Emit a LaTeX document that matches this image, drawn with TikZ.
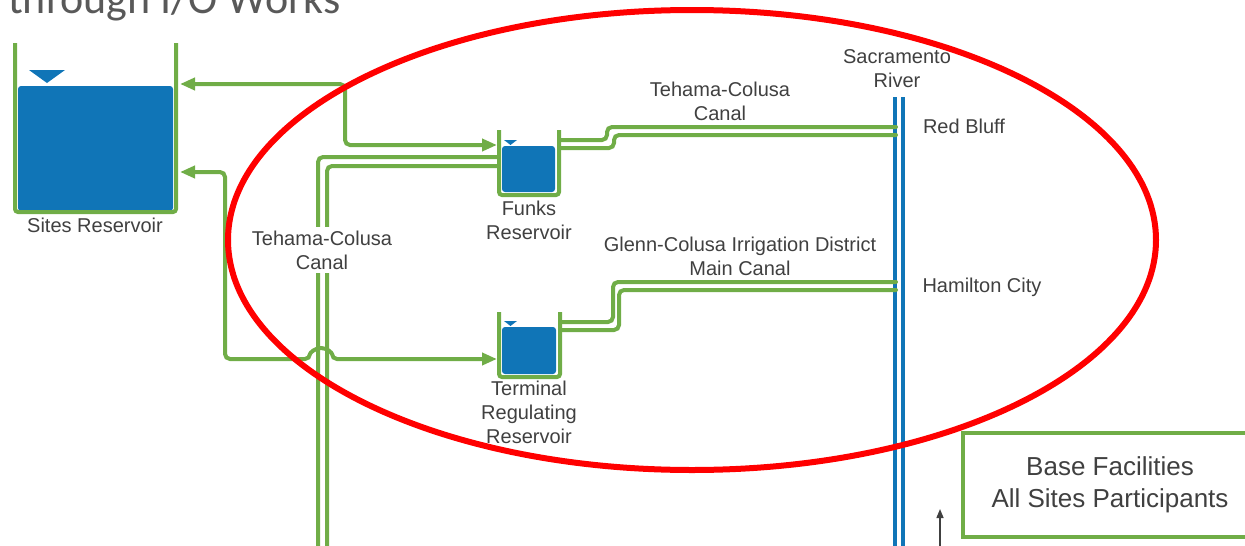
\documentclass[tikz,border=0pt]{standalone}
\usepackage{fontspec}
\setmainfont{Liberation Sans}
\newfontfamily\titlefont{Carlito}
\usetikzlibrary{arrows.meta, positioning}
\definecolor{pipegreen}{RGB}{112,173,71}
\definecolor{waterblue}{RGB}{16,117,183}
\definecolor{labelgrey}{RGB}{64,64,64}
\definecolor{titlegrey}{RGB}{89,89,89}

\begin{document}
\begin{tikzpicture}[
        x=1pt, y=-1pt,
        font=\fontsize{20}{24}\selectfont,
        >={Triangle[length=15pt,width=12pt]},
        pipe/.style={draw=pipegreen, line width=4pt, rounded corners=5pt},
        wall/.style={pipe, rounded corners=3pt},
        flow/.style={pipe, <->, color=pipegreen},
        canal/.style={pipe, line cap=round},
        river/.style={draw=waterblue, line width=4pt},
        water/.style={fill=waterblue, rounded corners=3pt, inner sep=0pt},
        lbl/.style={text=labelgrey, align=center}
    ]
    \useasboundingbox (0,0) rectangle (1245,546);

    % Title
    \node[anchor=base west, inner sep=0pt, font=\titlefont\fontsize{44}{50}\selectfont, text=titlegrey] (title) at (8,13) {through I/O Works};

    % Nodes
    \node[water, minimum width=155pt, minimum height=125pt] (sitesW) at (95.5,148.5) {};
    \node[water, minimum width=53pt, minimum height=46pt] (funksW) at (528.5,169) {};
    \node[water, minimum width=54pt, minimum height=47pt] (termW) at (529,350.5) {};

    \fill[waterblue] (29,70) -- (65,70) -- (47,83) -- cycle;
    \fill[waterblue] (504,140) -- (517,140) -- (510.5,145) -- cycle;
    \fill[waterblue] (504,321) -- (517,321) -- (510.5,326) -- cycle;

    \draw[wall] (15,43) |- (176,212) -- (176,43);
    \draw[wall] (499,130) |- (559,195) -- (559,130);
    \draw[wall] (499,312) |- (560,377) -- (560,312);

    \node[lbl] (sitesLbl) at (95,225) {Sites Reservoir};
    \node[lbl] (funksLbl) at (529,220) {Funks\\Reservoir};
    \node[lbl] (termLbl) at (529,412) {Terminal\\Regulating\\Reservoir};
    \node[lbl] (tcNorthLbl) at (720,101) {Tehama-Colusa\\Canal};
    \node[lbl] (gcidLbl) at (740,256) {Glenn-Colusa Irrigation District\\Main Canal};
    \node[lbl] (riverLbl) at (897,69) {Sacramento\\River};
    \node[lbl] (redBluff) at (964,126) {Red Bluff};
    \node[lbl] (hamilton) at (982,287) {Hamilton City};

    \node[draw=pipegreen, line width=4pt, minimum width=294pt, minimum height=104pt,
          font=\fontsize{26}{32}\selectfont, lbl] (base) at (1110,485) {Base Facilities\\All Sites Participants};

    % Ports
    \coordinate (sitesUp) at (180,84);
    \coordinate (sitesLow) at (180,172);
    \coordinate (funksIn) at (497,145);
    \coordinate (termIn) at (497,359);
    \coordinate (tcSouthA) at (318,560);
    \coordinate (tcSouthB) at (327,560);
    \coordinate (funksWestA) at (497,157);
    \coordinate (funksWestB) at (497,166);
    \coordinate (funksEastA) at (561,140);
    \coordinate (funksEastB) at (561,148);
    \coordinate (termEastA) at (562,322);
    \coordinate (termEastB) at (562,330);
    \coordinate (redBluffA) at (896,127);
    \coordinate (redBluffB) at (896,135);
    \coordinate (hamiltonA) at (896,282);
    \coordinate (hamiltonB) at (896,290);
    \coordinate (riverNorthA) at (895,97);
    \coordinate (riverNorthB) at (903,97);
    \coordinate (riverSouthA) at (895,560);
    \coordinate (riverSouthB) at (903,560);
    \coordinate (baseFrom) at (940,560);
    \coordinate (baseTo) at (940,509);

    % River
    \draw[river] (riverNorthA) -- (riverSouthA);
    \draw[river] (riverNorthB) -- (riverSouthB);

    % Canals
    \draw[canal] (tcSouthA) |- (funksWestA);
    \draw[canal] (tcSouthB) |- (funksWestB);
    \draw[canal] (funksEastA) -| (607,127) -- (redBluffA);
    \draw[canal] (funksEastB) -| (614,135) -- (redBluffB);
    \draw[canal] (termEastA) -| (613,282) -- (hamiltonA);
    \draw[canal] (termEastB) -| (619,290) -- (hamiltonB);
    \node[lbl, fill=white, inner sep=4pt] (tcWestLbl) at (322,250) {Tehama-Colusa\\Canal};

    % Arrows
    \draw[flow] (sitesUp) -| (345,145) -- (funksIn);
    \draw[flow] (sitesLow) -| (225,359) -- (310,359) arc[start angle=180, end angle=360, radius=11] -- (termIn);
    \draw[-{Triangle[length=9pt,width=7pt]}, line width=1.5pt, draw=labelgrey] (baseFrom) -- (baseTo);

    % Highlight
    \draw[red, line width=6pt] (692,240) ellipse[x radius=464, y radius=230];

\end{tikzpicture}
\end{document}
